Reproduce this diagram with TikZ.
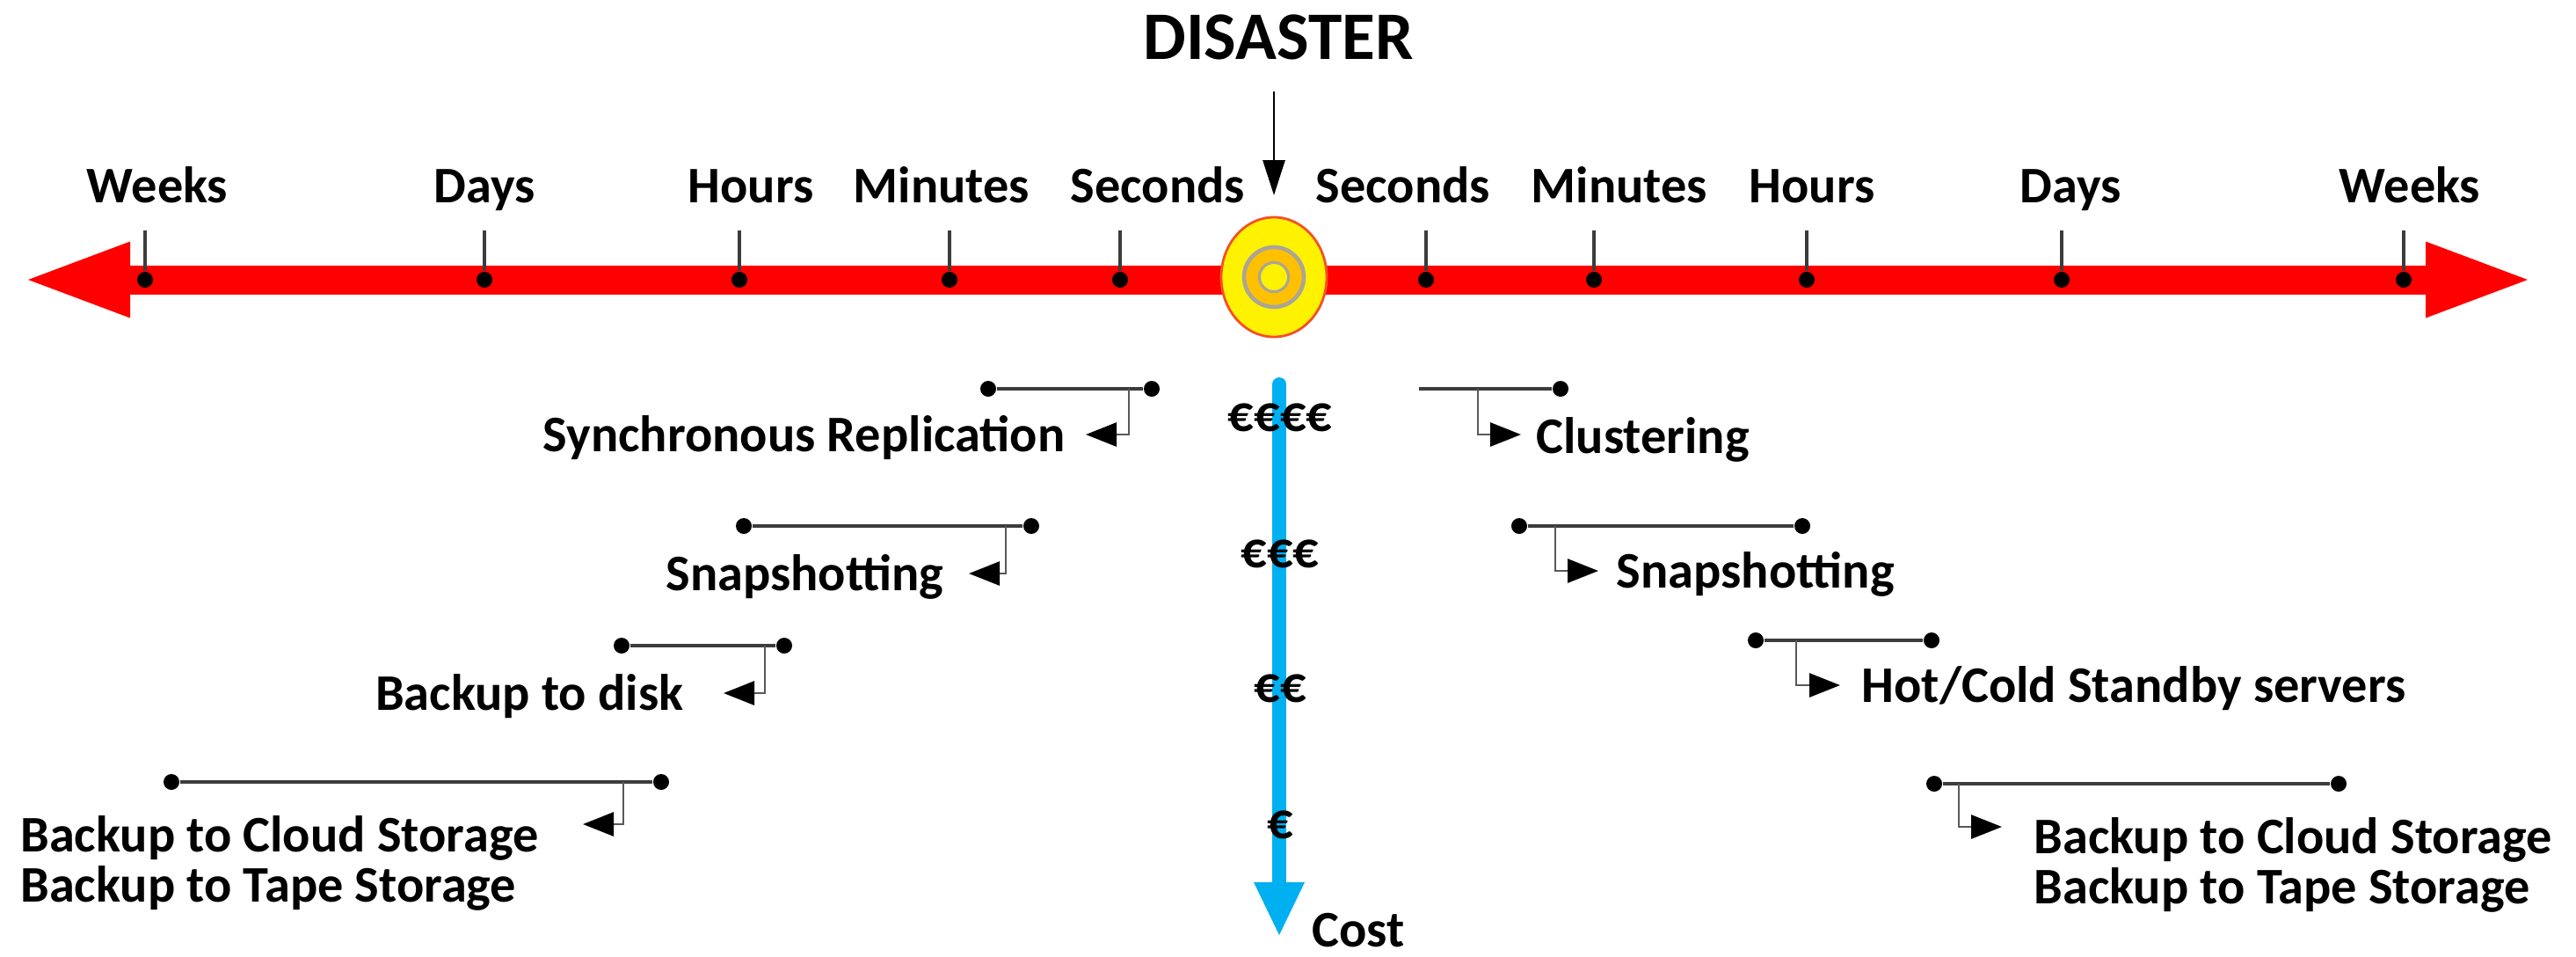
\documentclass[tikz,border=0pt]{standalone}
\usepackage{fontspec}
\setmainfont{Carlito}
\usetikzlibrary{arrows.meta,positioning,shapes.geometric,calc}
\definecolor{alarm}{RGB}{255,0,0}
\definecolor{sky}{RGB}{0,176,240}
\definecolor{amber}{RGB}{255,192,0}
\definecolor{rim}{RGB}{245,80,40}
\definecolor{ash}{RGB}{170,165,150}
\definecolor{wire}{RGB}{60,60,60}
\newcommand{\lblfont}{\fontsize{16.6}{16.2}\selectfont\bfseries}
\tikzset{
  lbl/.style={font=\lblfont,inner sep=0pt,align=left},
  dot/.style={circle,fill=black,inner sep=0pt,minimum size=1.8mm},
  nodot/.style={inner sep=0pt,minimum size=0pt},
  span/.style={draw=wire,line width=1.1pt},
  drop/.style={draw=wire!85!white,line width=0.8pt,-{Triangle[length=3.5mm,width=2.7mm,color=black]}},
  tickline/.style={draw=wire,line width=0.9pt}
}

\begin{document}
\begin{tikzpicture}
  \useasboundingbox (0,0) rectangle (29.3,-10.87);
  \coordinate (past) at (0.32,-3.18);
  \coordinate (future) at (28.75,-3.18);
  \draw[alarm,line width=3.3mm,{Triangle[length=11.6mm,width=8.7mm,line width=0pt]}-{Triangle[length=11.6mm,width=8.7mm,line width=0pt]}] (past) -- (future);
  \foreach \x [count=\i] in {1.65,5.51,8.41,10.80,12.74,16.22,18.13,20.55,23.45,27.34}
  {
    \node[dot] (tick\i) at (\x,-3.18) {};
    \draw[tickline] (tick\i.north) -- ++(0,0.46);
  }
  \foreach \x/\t in {1.79/Weeks,5.51/Days,8.54/Hours,10.71/Minutes,13.17/Seconds,15.96/Seconds,18.42/Minutes,20.61/Hours,23.55/Days,27.41/Weeks}
    \node[lbl,anchor=base] at (\x,-2.30) {\t};

  \node[ellipse,minimum width=12mm,minimum height=13.6mm,fill=yellow,draw=rim,line width=0.8pt] (hub) at (14.49,-3.15) {};
  \node[circle,minimum size=6.8mm,fill=amber,draw=ash,line width=1.3pt] (core) at (hub) {};
  \node[circle,minimum size=2.6mm,fill=yellow,draw=ash,line width=0.9pt] (eye) at (hub) {};

  \node[font=\fontsize{22}{22}\selectfont\bfseries,inner sep=0pt,anchor=base] (disaster) at (14.54,-0.67) {DISASTER};
  \coordinate (impact) at (14.49,-2.22);
  \draw[line width=0.8pt,-{Triangle[length=4mm,width=2.5mm]},shorten <=3.6mm] (impact |- disaster.south) -- (impact);

  \coordinate (costtop) at (14.55,-4.37);
  \coordinate (costend) at (14.55,-10.63);
  \draw[sky,line width=1.6mm,line cap=round,-{Triangle[length=6mm,width=5.8mm,line width=0pt]}] (costtop) -- (costend);
  \foreach \y/\t in {4.90/€€€€,6.45/€€€,7.98/€€,9.53/€}
    \node[lbl,anchor=base] at (14.56,-\y) {\t};
  \node[lbl,anchor=base west] (cost) at (14.92,-10.76) {Cost};

  \foreach \n/\sa/\xa/\xb/\ly/\xd/\ay/\xt/\lx/\lb/\an/\t in {
    sr/dot/11.24/13.10/4.42/12.84/4.94/12.35/12.12/5.13/base east/Synchronous Replication,
    sl/dot/8.46/11.73/5.98/11.44/6.52/11.02/10.74/6.71/base east/Snapshotting,
    bd/dot/7.07/8.92/7.34/8.70/7.88/8.23/7.78/8.07/base east/Backup to disk,
    bl/dot/1.95/7.52/8.89/7.09/9.37/6.63/6.13/9.27/north east/{Backup to Cloud Storage\\Backup to Tape Storage},
    cl/nodot/16.13/17.75/4.42/16.81/4.94/17.30/17.47/5.15/base west/Clustering,
    sp/dot/17.28/20.50/5.98/17.69/6.49/18.18/18.38/6.68/base west/Snapshotting,
    hc/dot/19.97/21.97/7.28/20.43/7.79/20.93/21.17/7.98/base west/{Hot/Cold Standby servers},
    bc/dot/22.00/26.60/8.91/22.28/9.40/22.77/23.13/9.29/north west/{Backup to Cloud Storage\\Backup to Tape Storage}}
  {
    \node[\sa] (\n-a) at (\xa,-\ly) {};
    \node[dot] (\n-b) at (\xb,-\ly) {};
    \draw[span] (\n-a) -- (\n-b);
    \coordinate (\n-tip) at (\xt,-\ay);
    \draw[drop] (\xd,-\ly) |- (\n-tip);
    \node[lbl,anchor=\an] (\n-text) at (\lx,-\lb) {\t};
  }
\end{tikzpicture}
\end{document}
